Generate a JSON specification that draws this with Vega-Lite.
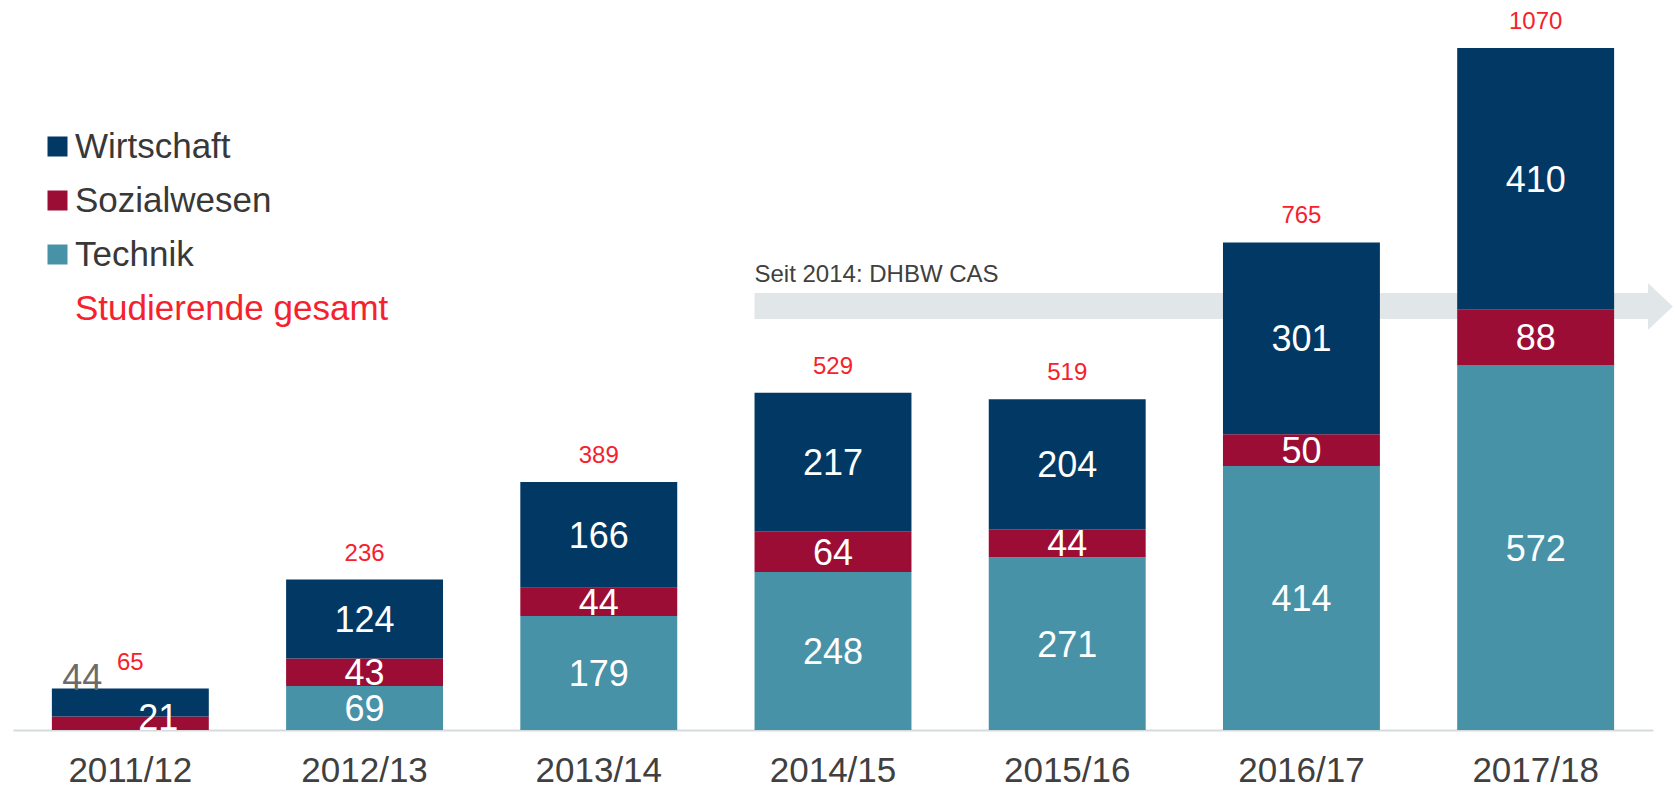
{
  "$schema": "https://vega.github.io/schema/vega-lite/v6.json",
  "width": 1640,
  "height": 730,
  "autosize": {"type": "none"},
  "padding": {"left": 13, "top": 0, "right": 22, "bottom": 59},
  "background": "white",
  "config": {"font": "Liberation Sans", "view": {"stroke": null}},
  "datasets": {
    "werte": [
      {"year": "2011/12", "cat": "Technik", "stapel": 1, "value": 0},
      {"year": "2011/12", "cat": "Sozialwesen", "stapel": 2, "value": 21},
      {"year": "2011/12", "cat": "Wirtschaft", "stapel": 3, "value": 44},
      {"year": "2012/13", "cat": "Technik", "stapel": 1, "value": 69},
      {"year": "2012/13", "cat": "Sozialwesen", "stapel": 2, "value": 43},
      {"year": "2012/13", "cat": "Wirtschaft", "stapel": 3, "value": 124},
      {"year": "2013/14", "cat": "Technik", "stapel": 1, "value": 179},
      {"year": "2013/14", "cat": "Sozialwesen", "stapel": 2, "value": 44},
      {"year": "2013/14", "cat": "Wirtschaft", "stapel": 3, "value": 166},
      {"year": "2014/15", "cat": "Technik", "stapel": 1, "value": 248},
      {"year": "2014/15", "cat": "Sozialwesen", "stapel": 2, "value": 64},
      {"year": "2014/15", "cat": "Wirtschaft", "stapel": 3, "value": 217},
      {"year": "2015/16", "cat": "Technik", "stapel": 1, "value": 271},
      {"year": "2015/16", "cat": "Sozialwesen", "stapel": 2, "value": 44},
      {"year": "2015/16", "cat": "Wirtschaft", "stapel": 3, "value": 204},
      {"year": "2016/17", "cat": "Technik", "stapel": 1, "value": 414},
      {"year": "2016/17", "cat": "Sozialwesen", "stapel": 2, "value": 50},
      {"year": "2016/17", "cat": "Wirtschaft", "stapel": 3, "value": 301},
      {"year": "2017/18", "cat": "Technik", "stapel": 1, "value": 572},
      {"year": "2017/18", "cat": "Sozialwesen", "stapel": 2, "value": 88},
      {"year": "2017/18", "cat": "Wirtschaft", "stapel": 3, "value": 410}
    ]
  },
  "layer": [
    {
      "data": {"values": [{"label": "Seit 2014: DHBW CAS"}]},
      "layer": [
        {
          "mark": {"type": "rect", "color": "#e1e6e8"},
          "encoding": {
            "x": {"datum": 3, "type": "quantitative", "scale": {"domain": [-0.1661, 6.8365], "nice": false, "zero": false}, "axis": null},
            "x2": {"datum": 6.815},
            "y": {"datum": 644.8, "type": "quantitative", "scale": {"domain": [0, 1145.3], "nice": false, "zero": true}, "axis": null},
            "y2": {"datum": 685.6}
          }
        },
        {
          "mark": {"type": "point", "shape": "M -0.53,-1 L 0.53,0 L -0.53,1 Z", "filled": true, "color": "#e1e6e8", "opacity": 1, "size": 2209, "strokeWidth": 0},
          "encoding": {
            "x": {"datum": 6.868, "type": "quantitative"},
            "y": {"datum": 664.4, "type": "quantitative"}
          }
        },
        {
          "mark": {"type": "text", "align": "left", "baseline": "alphabetic", "fontSize": 24, "color": "#404040"},
          "encoding": {
            "x": {"datum": 3, "type": "quantitative"},
            "y": {"datum": 702.9, "type": "quantitative"},
            "text": {"field": "label"}
          }
        }
      ]
    },
    {
      "data": {"name": "werte"},
      "encoding": {
        "x": {
          "field": "year", "type": "nominal",
          "scale": {"paddingInner": 0.33, "paddingOuter": 0.166},
          "axis": {"orient": "bottom", "title": null, "labelFontSize": 35, "labelColor": "#404040", "labelAngle": 0, "domainColor": "#d5dadc", "domainWidth": 2, "ticks": false, "tickSize": 0, "labelPadding": 23, "grid": false}
        }
      },
      "layer": [
        {
          "mark": {"type": "bar"},
          "encoding": {
            "y": {"field": "value", "type": "quantitative", "stack": "zero", "scale": {"domain": [0, 1145.3], "nice": false}, "axis": null},
            "color": {
              "field": "cat", "type": "nominal",
              "scale": {"domain": ["Wirtschaft", "Sozialwesen", "Technik", "Studierende gesamt"], "range": ["#023864", "#9b0d34", "#4892a8", "#f5222d"]},
              "legend": {
                "title": null, "orient": "none", "legendX": 27, "legendY": 129,
                "symbolType": "square", "symbolSize": 400, "symbolStrokeWidth": 0,
                "labelFontSize": 35, "labelColor": "#383838", "labelOffset": 0,
                "rowPadding": 18, "padding": 0, "labelLimit": 500,
                "encode": {
                  "labels": {"update": {"fill": [{"test": "datum.value === 'Studierende gesamt'", "value": "#f5222d"}, {"value": "#383838"}]}},
                  "symbols": {"update": {"opacity": [{"test": "datum.value === 'Studierende gesamt'", "value": 0}, {"value": 1}]}}
                }
              }
            },
            "order": {"field": "stapel", "type": "quantitative"}
          }
        },
        {
          "transform": [{"filter": "datum.year !== '2011/12'"}],
          "mark": {"type": "text", "baseline": "middle", "fontSize": 36, "color": "white", "dy": 2},
          "encoding": {
            "y": {"field": "value", "type": "quantitative", "stack": "zero", "bandPosition": 0.5},
            "detail": {"field": "cat"},
            "order": {"field": "stapel", "type": "quantitative"},
            "text": {"field": "value", "type": "quantitative"}
          }
        },
        {
          "transform": [
            {"stack": "value", "groupby": ["year"], "sort": [{"field": "stapel", "order": "ascending"}], "as": ["v0", "v1"]},
            {"filter": "datum.year === '2011/12' && datum.cat === 'Wirtschaft'"}
          ],
          "mark": {"type": "text", "baseline": "middle", "fontSize": 36, "color": "#6b6b6b", "dx": -48, "dy": -9.5},
          "encoding": {
            "y": {"field": "v1", "type": "quantitative"},
            "text": {"field": "value", "type": "quantitative"}
          }
        },
        {
          "transform": [
            {"stack": "value", "groupby": ["year"], "sort": [{"field": "stapel", "order": "ascending"}], "as": ["v0", "v1"]},
            {"filter": "datum.year === '2011/12' && datum.cat === 'Sozialwesen'"}
          ],
          "mark": {"type": "text", "baseline": "middle", "fontSize": 36, "color": "white", "dx": 28, "dy": 2.5},
          "encoding": {
            "y": {"field": "v1", "type": "quantitative"},
            "text": {"field": "value", "type": "quantitative"}
          }
        },
        {
          "mark": {"type": "text", "baseline": "alphabetic", "fontSize": 24, "dy": -19},
          "encoding": {
            "y": {"aggregate": "sum", "field": "value", "type": "quantitative"},
            "text": {"aggregate": "sum", "field": "value", "type": "quantitative"},
            "color": {"datum": "Studierende gesamt"}
          }
        }
      ]
    }
  ],
  "resolve": {"scale": {"x": "independent"}}
}
